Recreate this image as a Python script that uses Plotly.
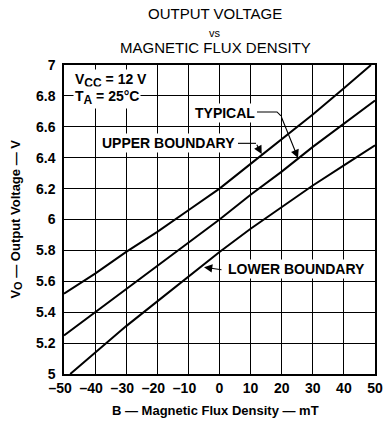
import plotly.graph_objects as go

# ---- data ----
b_upper = [-50, -40, -30, -20, -10, 0, 10, 20, 30, 40, 48.7]
v_upper = [5.52, 5.65, 5.79, 5.92, 6.06, 6.20, 6.36, 6.52, 6.68, 6.85, 7.00]

b_typical = [-50, -40, -30, -20, -10, 0, 10, 20, 30, 40, 50]
v_typical = [5.25, 5.40, 5.55, 5.70, 5.85, 6.00, 6.16, 6.31, 6.47, 6.62, 6.77]

b_lower = [-48, -40, -30, -20, -10, 0, 10, 20, 30, 40, 50]
v_lower = [5.00, 5.14, 5.31, 5.47, 5.63, 5.79, 5.94, 6.08, 6.22, 6.35, 6.48]

x_tickvals = [-50, -40, -30, -20, -10, 0, 10, 20, 30, 40, 50]
x_ticktext = ["\u201350\u2007", "\u201340\u2007", "\u201330\u2007", "\u201320\u2007", "\u201310\u2007",
              "0", "10", "20", "30", "40", "50"]
y_tickvals = [5, 5.2, 5.4, 5.6, 5.8, 6, 6.2, 6.4, 6.6, 6.8, 7]
y_ticktext = ["5", "5.2", "5.4", "5.6", "5.8", "6", "6.2", "6.4", "6.6", "6.8", "7"]

FONT = "Liberation Sans, Arial, Helvetica, sans-serif"

fig = go.Figure()
for bx, vy in [(b_upper, v_upper), (b_typical, v_typical), (b_lower, v_lower)]:
    fig.add_trace(go.Scatter(x=bx, y=vy, mode="lines",
                             line=dict(color="black", width=2),
                             showlegend=False, hoverinfo="skip"))

ann = []
# title lines
ann.append(dict(text="OUTPUT VOLTAGE", x=0.487, y=1.168, xref="paper", yref="paper",
                showarrow=False, font=dict(size=15, color="black", family=FONT),
                xanchor="center", yanchor="middle"))
ann.append(dict(text="vs", x=0.487, y=1.105, xref="paper", yref="paper",
                showarrow=False, font=dict(size=11, color="black", family=FONT),
                xanchor="center", yanchor="middle"))
ann.append(dict(text="MAGNETIC FLUX DENSITY", x=0.487, y=1.057, xref="paper", yref="paper",
                showarrow=False, font=dict(size=15, color="black", family=FONT),
                xanchor="center", yanchor="middle"))
# axis titles
ann.append(dict(text="<b>B — Magnetic Flux Density — mT</b>", x=0.486, y=-0.117,
                xref="paper", yref="paper", showarrow=False,
                font=dict(size=13, color="black", family=FONT),
                xanchor="center", yanchor="middle"))
ann.append(dict(text="<b>V<sub><span style='font-size:11px'>O</span></sub> — Output Voltage — V</b>",
                x=-0.154, y=0.50, xref="paper", yref="paper", showarrow=False, textangle=-90,
                font=dict(size=13, color="black", family=FONT),
                xanchor="center", yanchor="middle"))

lab_font = dict(size=14, color="black", family=FONT)
# conditions
ann.append(dict(text="<b>V<sub><span style='font-size:12px'>CC</span></sub> = 12 V</b>", x=-47.1, y=6.90,
                xanchor="left", yanchor="middle",
                showarrow=False, font=lab_font, bgcolor="white", borderpad=1))
ann.append(dict(text="<b>T<sub><span style='font-size:12px'>A</span></sub> = 25°C</b>", x=-47.1, y=6.79,
                xanchor="left", yanchor="middle",
                showarrow=False, font=lab_font, bgcolor="white", borderpad=1))
# curve labels
ann.append(dict(text="<b>TYPICAL</b>", x=-8.52, y=6.689, xanchor="left", yanchor="middle",
                showarrow=False, font=lab_font, bgcolor="white", borderpad=1))
ann.append(dict(text="<b>UPPER BOUNDARY</b>", x=-38.42, y=6.497, xanchor="left", yanchor="middle",
                showarrow=False, font=lab_font, bgcolor="white", borderpad=1))
ann.append(dict(text="<b>LOWER BOUNDARY</b>", x=2.14, y=5.678, xanchor="left", yanchor="middle",
                showarrow=False, font=lab_font, bgcolor="white", borderpad=1))
# arrows
arrow_style = dict(showarrow=True, arrowhead=2, arrowsize=1.5, arrowwidth=1.1, arrowcolor="black",
                   axref="x", ayref="y", text="", standoff=0, startstandoff=0)
ann.append(dict(x=25.24, y=6.398, ax=19.77, ay=6.670, **arrow_style))
ann.append(dict(x=13.57, y=6.424, ax=11.74, ay=6.493, **arrow_style))
ann.append(dict(x=-4.98, y=5.691, ax=1.13, ay=5.673, **arrow_style))

shapes = [
    dict(type="path", path="M 12.06 6.696 L 18.49 6.696 L 19.77 6.670",
         line=dict(color="black", width=1.1), xref="x", yref="y"),
    dict(type="line", x0=5.95, y0=6.493, x1=11.74, y1=6.493,
         line=dict(color="black", width=1.1), xref="x", yref="y"),
]

fig.update_layout(
    width=389, height=421,
    margin=dict(l=64, r=14, t=65, b=47),
    paper_bgcolor="white", plot_bgcolor="white",
    font=dict(family=FONT, color="black"),
    annotations=ann, shapes=shapes,
    xaxis=dict(range=[-50, 50], tickvals=x_tickvals, ticktext=x_ticktext, tickangle=0,
               showgrid=True, gridcolor="black", gridwidth=1, automargin=False,
               showline=True, linecolor="black", linewidth=1.5, mirror=True,
               zeroline=False, ticks="", ticklabelstandoff=0,
               tickfont=dict(size=14, family=FONT, color="black", weight="bold")),
    yaxis=dict(range=[5, 7], tickvals=y_tickvals, ticktext=y_ticktext,
               showgrid=True, gridcolor="black", gridwidth=1, automargin=False,
               showline=True, linecolor="black", linewidth=1.5, mirror=True,
               zeroline=False, ticks="", ticklabelstandoff=4,
               tickfont=dict(size=14, family=FONT, color="black", weight="bold")),
)

fig.write_html("out.html", config={"displayModeBar": False},
               post_script="document.body.style.margin='0';document.body.style.overflow='hidden';")
